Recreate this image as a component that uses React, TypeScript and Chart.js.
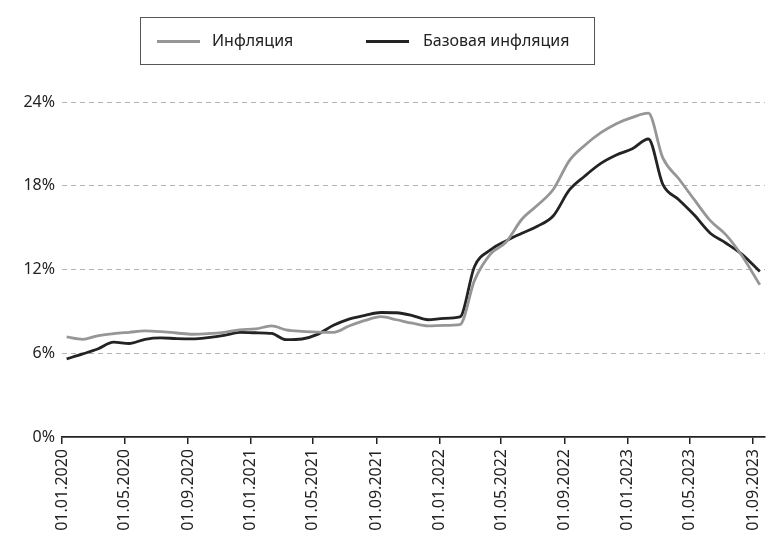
import React, { useEffect, useRef } from "react";
import { Chart, registerables } from "chart.js";

Chart.register(...registerables);

// Monthly observation dates (mid-month points)
const dates: string[] = [
  "2020-01-10","2020-02-10","2020-03-10","2020-04-10","2020-05-10","2020-06-10",
  "2020-07-10","2020-08-10","2020-09-10","2020-10-10","2020-11-10","2020-12-10",
  "2021-01-10","2021-02-10","2021-03-10","2021-04-10","2021-05-10","2021-06-10",
  "2021-07-10","2021-08-10","2021-09-10","2021-10-10","2021-11-10","2021-12-10",
  "2022-01-10","2022-02-10","2022-03-10","2022-04-10","2022-05-10","2022-06-10",
  "2022-07-10","2022-08-10","2022-09-10","2022-10-10","2022-11-10","2022-12-10",
  "2023-01-10","2023-02-10","2023-03-10","2023-04-10","2023-05-10","2023-06-10",
  "2023-07-10","2023-08-10","2023-09-14",
];

const inflation: number[] = [
  7.17, 7.0, 7.25, 7.4, 7.5, 7.6, 7.55, 7.45, 7.36, 7.4, 7.5, 7.68,
  7.74, 7.96, 7.68, 7.57, 7.52, 7.5, 7.95, 8.35, 8.62, 8.4, 8.15, 7.96,
  8.0, 8.05, 11.2, 13.1, 13.95, 15.6, 16.6, 17.75, 19.8, 20.9, 21.8, 22.45,
  22.9, 23.2, 20.0, 18.5, 17.0, 15.5, 14.5, 13.0, 10.9,
];

const coreInflation: number[] = [
  5.6, 5.95, 6.3, 6.8, 6.7, 7.0, 7.1, 7.05, 7.03, 7.12, 7.28, 7.5,
  7.47, 7.42, 6.97, 7.02, 7.35, 8.0, 8.45, 8.72, 8.92, 8.9, 8.7, 8.4,
  8.5, 8.6, 12.2, 13.4, 14.05, 14.6, 15.1, 15.85, 17.7, 18.7, 19.6, 20.2,
  20.65, 21.35, 18.1, 17.0, 15.9, 14.6, 13.9, 13.1, 11.85,
];

const tickLabels: string[] = [
  "01.01.2020","01.05.2020","01.09.2020","01.01.2021","01.05.2021","01.09.2021",
  "01.01.2022","01.05.2022","01.09.2022","01.01.2023","01.05.2023","01.09.2023",
];

const seriesNames: string[] = ["Инфляция", "Базовая инфляция"];
const yTicks: number[] = [0, 6, 12, 18, 24];

const DAY = 86400000;
const ORIGIN = Date.UTC(2020, 0, 1);
const isoToDay = (s: string) => {
  const [y, m, d] = s.split("-").map(Number);
  return (Date.UTC(y, m - 1, d) - ORIGIN) / DAY;
};
const ruToDay = (s: string) => {
  const [d, m, y] = s.split(".").map(Number);
  return (Date.UTC(y, m - 1, d) - ORIGIN) / DAY;
};

const FONT = "'Noto Sans', 'Open Sans', sans-serif";
const GRAY = "rgb(150,150,150)";
const DARK = "rgb(35,35,35)";

export default function App() {
  const ref = useRef<HTMLCanvasElement | null>(null);

  useEffect(() => {
    if (!ref.current) return;
    const tickDays = tickLabels.map(ruToDay);
    const labelByDay = new Map<number, string>();
    tickLabels.forEach((l, i) => labelByDay.set(tickDays[i], l));
    const xs = dates.map(isoToDay);

    const chart = new Chart(ref.current, {
      type: "line",
      data: {
        datasets: [
          {
            label: seriesNames[0],
            data: xs.map((x, i) => ({ x, y: inflation[i] })),
            borderColor: GRAY,
            borderWidth: 2.8,
            pointRadius: 0,
            cubicInterpolationMode: "monotone",
            fill: false,
          },
          {
            label: seriesNames[1],
            data: xs.map((x, i) => ({ x, y: coreInflation[i] })),
            borderColor: DARK,
            borderWidth: 2.8,
            pointRadius: 0,
            cubicInterpolationMode: "monotone",
            fill: false,
          },
        ],
      },
      options: {
        animation: false,
        responsive: false,
        devicePixelRatio: 1,
        layout: { padding: { top: 102, right: 1, left: 0, bottom: 0 } },
        plugins: {
          legend: { display: false },
          tooltip: { enabled: false },
        },
        scales: {
          x: {
            type: "linear",
            min: 0,
            max: 1362,
            afterBuildTicks: (scale: any) => {
              scale.ticks = tickDays.map((v) => ({ value: v }));
            },
            afterFit: (scale: any) => {
              scale.height = 109;
              scale.paddingLeft = 0;
              scale.paddingRight = 0;
            },
            ticks: {
              autoSkip: false,
              minRotation: 90,
              maxRotation: 90,
              padding: 5,
              color: "#222",
              font: { family: FONT, size: 16 },
              callback: (v: any) => labelByDay.get(Number(v)) ?? "",
            },
            grid: {
              drawOnChartArea: false,
              drawTicks: true,
              tickLength: 7,
              color: "#222",
              lineWidth: 1.5,
            },
            border: { display: true, color: "#222", width: 1.8 },
          },
          y: {
            min: 0,
            max: 24,
            afterBuildTicks: (scale: any) => {
              scale.ticks = yTicks.map((v) => ({ value: v }));
            },
            afterFit: (scale: any) => {
              scale.width = 62;
            },
            ticks: {
              padding: 7,
              color: "#222",
              font: { family: FONT, size: 16 },
              callback: (v: any) => `${v}%`,
            },
            grid: {
              drawTicks: false,
              color: (ctx: any) => (ctx.tick && ctx.tick.value === 0 ? "rgba(0,0,0,0)" : "#b4b4b4"),
              lineWidth: 1,
            },
            border: { display: false, dash: [5, 4] },
          },
        },
      },
    });
    return () => chart.destroy();
  }, []);

  return (
    <div style={{ position: "absolute", left: 0, top: 0, width: 766, height: 546, background: "#fff" }}>
      <canvas ref={ref} width={766} height={546} style={{ position: "absolute", left: 0, top: 0 }} />
      <div
        style={{
          position: "absolute",
          left: 140,
          top: 17,
          width: 455,
          height: 48,
          border: "1px solid #555",
          boxSizing: "border-box",
          fontFamily: FONT,
          fontSize: 16,
          color: "#222",
        }}
      >
        <div style={{ position: "absolute", left: 16, top: 22, width: 43, height: 3, background: GRAY }} />
        <div style={{ position: "absolute", left: 71, top: 11, lineHeight: "22px", whiteSpace: "nowrap" }}>{seriesNames[0]}</div>
        <div style={{ position: "absolute", left: 225, top: 22, width: 43, height: 3, background: DARK }} />
        <div style={{ position: "absolute", left: 282, top: 11, lineHeight: "22px", whiteSpace: "nowrap" }}>{seriesNames[1]}</div>
      </div>
    </div>
  );
}
